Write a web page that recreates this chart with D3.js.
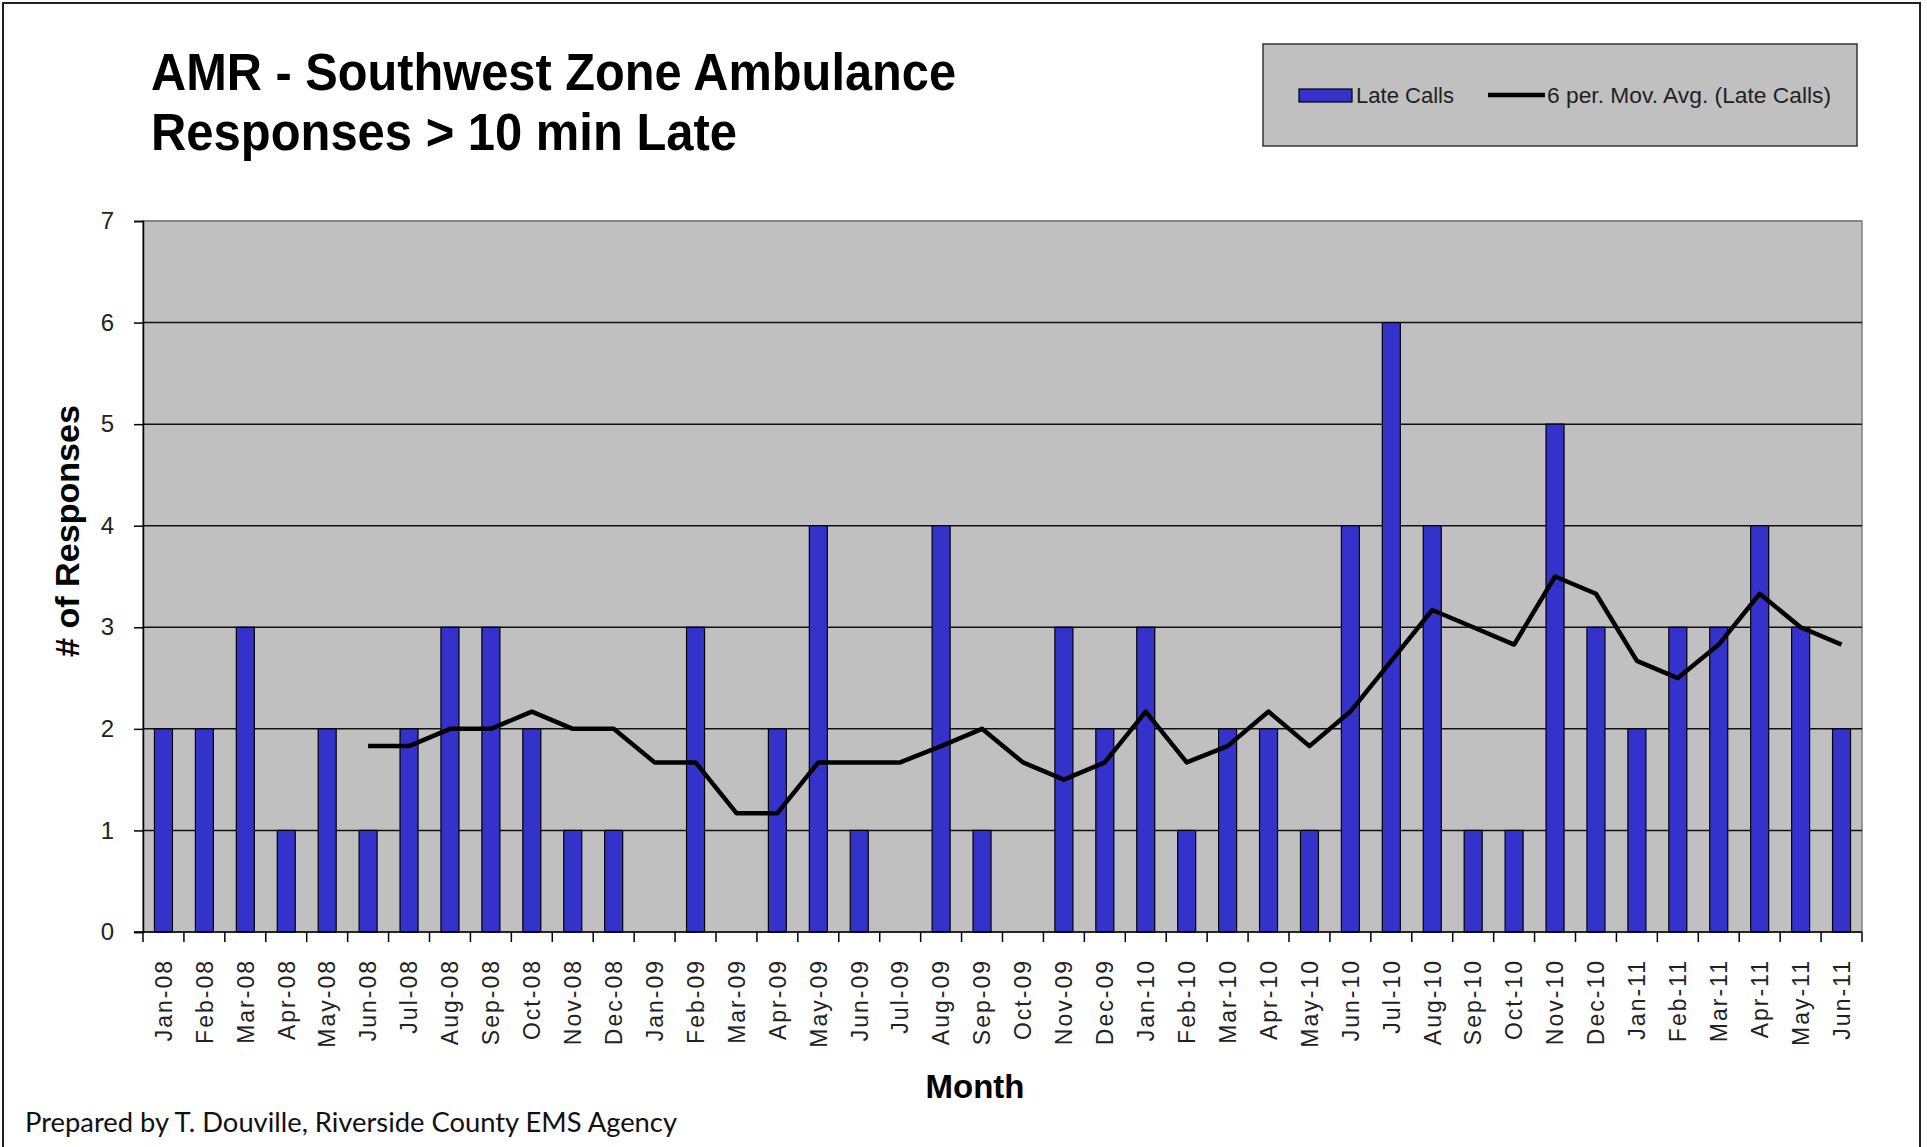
<!DOCTYPE html>
<html>
<head>
<meta charset="utf-8">
<script src="https://cdn.jsdelivr.net/npm/d3@7"></script>
<style>
  body { margin: 0; background: #fff; }
</style>
</head>
<body>
<div id="wrapper"></div>
<script>
// Data
const months = ["Jan-08","Feb-08","Mar-08","Apr-08","May-08","Jun-08","Jul-08","Aug-08","Sep-08","Oct-08","Nov-08","Dec-08",
  "Jan-09","Feb-09","Mar-09","Apr-09","May-09","Jun-09","Jul-09","Aug-09","Sep-09","Oct-09","Nov-09","Dec-09",
  "Jan-10","Feb-10","Mar-10","Apr-10","May-10","Jun-10","Jul-10","Aug-10","Sep-10","Oct-10","Nov-10","Dec-10",
  "Jan-11","Feb-11","Mar-11","Apr-11","May-11","Jun-11"]
const lateCalls = [2,2,3,1,2,1,2,3,3,2,1,1, 0,3,0,2,4,1,0,4,1,0,3,2, 3,1,2,2,1,4,6,4,1,1,5,3, 2,3,3,4,3,2]
const movAvg = [null,null,null,null,null,1.83,1.83,2,2,2.17,2,2,
  1.67,1.67,1.17,1.17,1.67,1.67,1.67,1.83,2,1.67,1.5,1.67,
  2.17,1.67,1.83,2.17,1.83,2.17,2.67,3.17,3,2.83,3.5,3.33,
  2.67,2.5,2.83,3.33,3,2.83]
const yTicks = [0,1,2,3,4,5,6,7]

const sans = "'Liberation Sans', Arial, sans-serif"

function drawChart() {
    // Chart dimensions
    let dimensions = {
        width: 1927,
        height: 1147,
        margin: { top: 221, right: 65, bottom: 215, left: 143 },
    }
    dimensions.boundedWidth = dimensions.width - dimensions.margin.left - dimensions.margin.right
    dimensions.boundedHeight = dimensions.height - dimensions.margin.top - dimensions.margin.bottom

    const wrapper = d3.select("#wrapper")
        .append("svg")
            .attr("width", dimensions.width)
            .attr("height", dimensions.height)
            .style("font-family", sans)

    // outer frame
    wrapper.append("rect")
        .attr("x", 3).attr("y", 3)
        .attr("width", 1917).attr("height", 1160)
        .attr("fill", "#fff")
        .attr("stroke", "#222")
        .attr("stroke-width", 2)

    const bounds = wrapper.append("g")
        .attr("transform", `translate(${dimensions.margin.left},${dimensions.margin.top})`)

    // Scales
    const xScale = d3.scaleBand()
        .domain(months)
        .range([0, dimensions.boundedWidth])
        .paddingInner(0.56)
        .paddingOuter(0.28)

    const yScale = d3.scaleLinear()
        .domain([0, 7])
        .range([dimensions.boundedHeight, 0])

    // plot area
    bounds.append("rect")
        .attr("width", dimensions.boundedWidth)
        .attr("height", dimensions.boundedHeight)
        .attr("fill", "#c0c0c0")
        .attr("stroke", "#808080")
        .attr("stroke-width", 1.5)

    // gridlines
    bounds.append("g")
        .selectAll("line")
        .data(yTicks.filter(d => d > 0))
        .join("line")
            .attr("x1", 0)
            .attr("x2", dimensions.boundedWidth)
            .attr("y1", d => yScale(d))
            .attr("y2", d => yScale(d))
            .attr("stroke", d => d == 7 ? "#808080" : "#111")
            .attr("stroke-width", 1.5)

    // bars
    bounds.append("g")
        .selectAll("rect")
        .data(lateCalls)
        .join("rect")
            .attr("x", (d, i) => xScale(months[i]))
            .attr("y", d => yScale(d))
            .attr("width", xScale.bandwidth())
            .attr("height", d => dimensions.boundedHeight - yScale(d))
            .attr("fill", "#3333cc")
            .attr("stroke", "#000")
            .attr("stroke-width", 1.2)

    // moving average line
    const lineGenerator = d3.line()
        .defined(d => d != null)
        .x((d, i) => xScale(months[i]) + xScale.bandwidth() / 2)
        .y(d => yScale(d))

    bounds.append("path")
        .attr("d", lineGenerator(movAvg))
        .attr("fill", "none")
        .attr("stroke", "#000")
        .attr("stroke-width", 4.5)
        .attr("stroke-linejoin", "round")

    // y axis
    const yAxis = bounds.append("g")
        .call(d3.axisLeft(yScale).tickValues(yTicks).tickFormat(d3.format("d")).tickSize(9).tickPadding(20))
    yAxis.select(".domain").attr("stroke", "#000").attr("stroke-width", 1.5)
    yAxis.selectAll(".tick line").attr("stroke", "#000").attr("stroke-width", 1.5)
    yAxis.selectAll(".tick text")
        .attr("font-family", null)
        .attr("font-size", 24)
        .attr("fill", "#222")

    // x axis: ticks between the categories
    const xAxis = bounds.append("g")
        .attr("transform", `translate(0,${dimensions.boundedHeight})`)
    xAxis.append("line")
        .attr("x1", -9).attr("x2", dimensions.boundedWidth)
        .attr("stroke", "#000").attr("stroke-width", 1.5)
    const step = xScale.step()
    xAxis.selectAll(".xtick")
        .data(d3.range(months.length + 1))
        .join("line")
            .attr("class", "xtick")
            .attr("x1", i => i < months.length ? xScale(months[i]) - step * 0.28 : dimensions.boundedWidth)
            .attr("x2", i => i < months.length ? xScale(months[i]) - step * 0.28 : dimensions.boundedWidth)
            .attr("y1", 0).attr("y2", 10)
            .attr("stroke", "#000").attr("stroke-width", 1.5)
    xAxis.selectAll(".xlabel")
        .data(months)
        .join("text")
            .attr("class", "xlabel")
            .attr("transform", d => `translate(${xScale(d) + xScale.bandwidth() / 2},27) rotate(-90)`)
            .attr("text-anchor", "end")
            .attr("dy", "0.36em")
            .attr("font-size", 23)
            .attr("letter-spacing", 2)
            .attr("fill", "#222")
            .text(d => d)

    // title
    const title = wrapper.append("text")
        .attr("font-size", 51)
        .attr("font-weight", "bold")
    title.append("tspan").attr("x", 151).attr("y", 90)
        .attr("textLength", 805).attr("lengthAdjust", "spacingAndGlyphs")
        .text("AMR - Southwest Zone Ambulance")
    title.append("tspan").attr("x", 151).attr("y", 150)
        .attr("textLength", 586).attr("lengthAdjust", "spacingAndGlyphs")
        .text("Responses > 10 min Late")

    // axis titles
    wrapper.append("text")
        .attr("transform", "translate(79,531) rotate(-90)")
        .attr("text-anchor", "middle")
        .attr("font-size", 33)
        .attr("font-weight", "bold")
        .attr("textLength", 252)
        .attr("lengthAdjust", "spacingAndGlyphs")
        .text("# of Responses")

    wrapper.append("text")
        .attr("x", 975)
        .attr("y", 1098)
        .attr("text-anchor", "middle")
        .attr("font-size", 33)
        .attr("font-weight", "bold")
        .text("Month")

    // legend
    const legend = wrapper.append("g")
    legend.append("rect")
        .attr("x", 1263).attr("y", 44)
        .attr("width", 594).attr("height", 102)
        .attr("fill", "#c0c0c0")
        .attr("stroke", "#333")
        .attr("stroke-width", 1.5)
    legend.append("rect")
        .attr("x", 1299).attr("y", 89)
        .attr("width", 53).attr("height", 13)
        .attr("fill", "#3333cc")
        .attr("stroke", "#000")
        .attr("stroke-width", 1.2)
    legend.append("text")
        .attr("x", 1356).attr("y", 103)
        .attr("font-size", 22)
        .attr("fill", "#222")
        .attr("textLength", 98)
        .attr("lengthAdjust", "spacingAndGlyphs")
        .text("Late Calls")
    legend.append("line")
        .attr("x1", 1488).attr("x2", 1545)
        .attr("y1", 95).attr("y2", 95)
        .attr("stroke", "#000")
        .attr("stroke-width", 4.5)
    legend.append("text")
        .attr("x", 1547).attr("y", 103)
        .attr("font-size", 22)
        .attr("fill", "#222")
        .attr("textLength", 284)
        .attr("lengthAdjust", "spacingAndGlyphs")
        .text("6 per. Mov. Avg. (Late Calls)")

    // footer
    wrapper.append("text")
        .attr("x", 25)
        .attr("y", 1132)
        .style("font-family", "Lato, 'Open Sans', sans-serif")
        .attr("font-size", 26)
        .attr("textLength", 652)
        .attr("lengthAdjust", "spacingAndGlyphs")
        .attr("fill", "#111")
        .text("Prepared by T. Douville, Riverside County EMS Agency")
}

drawChart()
</script>
</body>
</html>
